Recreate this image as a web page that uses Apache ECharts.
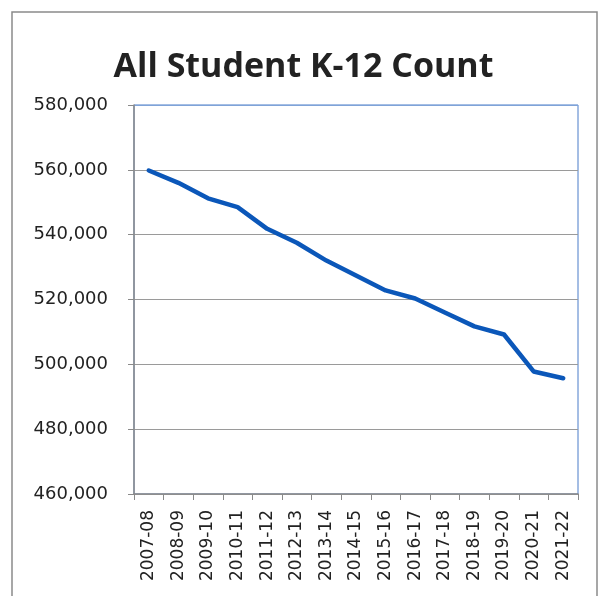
<!DOCTYPE html>
<html><head><meta charset="utf-8">
<script src="https://cdn.jsdelivr.net/npm/echarts@6/dist/echarts.min.js"></script>
<style>html,body{margin:0;padding:0;background:#fff;}#c{width:607px;height:596px;}</style>
</head><body><div id="c"></div>
<script>
const titleText = 'All Student K-12 Count';
const categories = ['2007-08','2008-09','2009-10','2010-11','2011-12','2012-13','2013-14','2014-15','2015-16','2016-17','2017-18','2018-19','2019-20','2020-21','2021-22'];
const studentCount = [559800,556000,551200,548500,541800,537500,532000,527400,522800,520300,516000,511700,509200,497800,495700];
const yMin = 460000, yMax = 580000, yStep = 20000;

const chart = echarts.init(document.getElementById('c'), null, {renderer:'canvas'});
chart.setOption({
  backgroundColor:'#fff',
  animation:false,
  title:{text:titleText,left:'center',top:45,textStyle:{fontFamily:'Open Sans',fontWeight:'bold',fontSize:34,color:'#222'}},
  graphic:[{type:'rect',shape:{x:12,y:12,width:585,height:620},style:{fill:'none',stroke:'#8a8a8a',lineWidth:1.5},silent:true}],
  grid:{left:134,top:105,right:29,bottom:102,show:true,borderColor:'#4a7cc9',borderWidth:1},
  xAxis:{type:'category',data:categories,boundaryGap:true,
    axisLine:{lineStyle:{color:'#8a8a8a',width:1.5}},
    axisTick:{show:true,length:6,interval:0,lineStyle:{color:'#8a8a8a'}},
    axisLabel:{rotate:90,interval:0,margin:16,fontFamily:'DejaVu Sans',fontSize:17,color:'#222'}},
  yAxis:{type:'value',min:yMin,max:yMax,interval:yStep,
    axisLine:{show:true,lineStyle:{color:'#8a8a8a',width:1.5}},
    axisTick:{show:true,length:6,lineStyle:{color:'#8a8a8a'}},
    splitLine:{show:true,lineStyle:{color:['#9a9a9a','#9a9a9a','#9a9a9a','#9a9a9a','#9a9a9a','#9a9a9a','#7fa3d8'],width:1.2}},
    axisLabel:{margin:26,fontFamily:'DejaVu Sans',fontSize:18,color:'#222',
      formatter:v=>v.toLocaleString('en-US')}},
  series:[{type:'line',data:studentCount,symbol:'none',smooth:false,
    lineStyle:{color:'#0b57b9',width:4.5,cap:'round',join:'round'}}]
});
</script></body></html>
